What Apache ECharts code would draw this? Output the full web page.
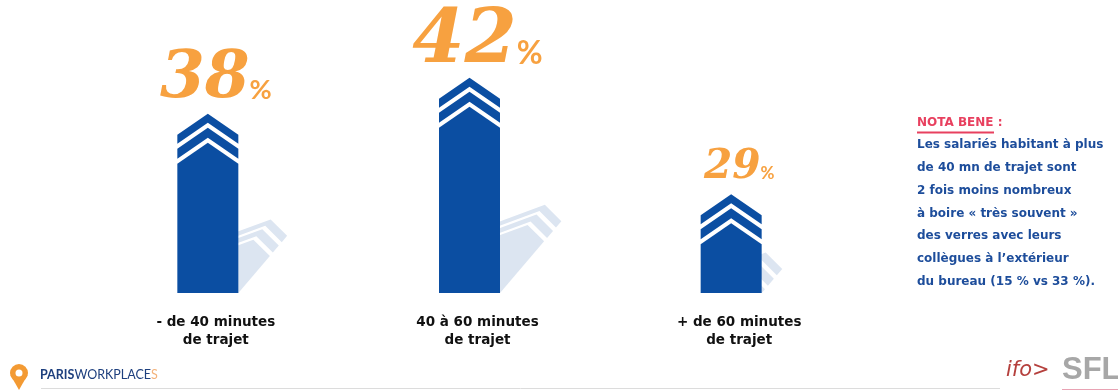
<!DOCTYPE html>
<html><head><meta charset="utf-8">
<script src="https://cdn.jsdelivr.net/npm/echarts@6/dist/echarts.min.js"></script>
<style>html,body{margin:0;padding:0;background:#fff;}#c{width:1118px;height:391px;}</style>
</head><body><div id="c"></div>
<script>
const categories = ['- de 40 minutes\nde trajet', '40 à 60 minutes\nde trajet', '+ de 60 minutes\nde trajet'];
const values = [38, 42, 29];
const noteTitle = 'NOTA BENE';
const noteLines = [
  'Les salariés habitant à plus',
  'de 40 mn de trajet sont',
  '2 fois moins nombreux',
  'à boire « très souvent »',
  'des verres avec leurs',
  'collègues à l\u2019extérieur',
  'du bureau (15 % vs 33 %).'
];

const Y_MIN = 18, Y_MAX = 50;
const BLUE = '#0b4ea2', SHADOW = '#dce5f1', ORANGE = '#f7a140';

const chart = echarts.init(document.getElementById('c'), null, {renderer: 'canvas'});

function renderItem(params, api) {
  const idx = api.value(0), v = api.value(1);
  const top = api.coord([idx, v]);
  const base = api.coord([idx, Y_MIN]);
  const cx = top[0], ty = top[1], by = base[1];
  const hw = 30.5, L = cx - hw, R = cx + hw;
  const mk = (drop, k) => {
    const band = (d1, d2) => [[L, ty + k * d1 + drop], [cx, ty + k * d1], [R, ty + k * d1 + drop], [R, ty + k * d2 + drop], [cx, ty + k * d2], [L, ty + k * d2 + drop]];
    return [band(0, 9), band(14, 24), [[L, ty + k * 29 + drop], [cx, ty + k * 29], [R, ty + k * 29 + drop], [R, by], [L, by]]];
  };
  const sh = p => { const z = by - p[1]; return [p[0] + 0.35 * z, by - 0.41 * z]; };
  const children = [];
  mk(40, 1.7).forEach(pts => children.push({type: 'polygon', shape: {points: pts.map(sh)}, style: {fill: SHADOW}}));
  mk(21, 1).forEach(pts => children.push({type: 'polygon', shape: {points: pts}, style: {fill: BLUE}}));
  const S = 2.66 * v - 36.6, s = S * 0.42;
  children.push({
    type: 'text',
    x: cx + 8, y: ty - 17 + 0.25 * S,
    style: {
      text: '{n|' + v + '}{p|%}',
      align: 'center', verticalAlign: 'bottom',
      rich: {
        n: {fontFamily: 'DejaVu Serif', fontStyle: 'italic', fontWeight: 'bold', fontSize: S, lineHeight: S, fill: ORANGE, color: ORANGE, verticalAlign: 'bottom'},
        p: {fontFamily: 'Lato', fontWeight: 'bold', fontSize: s, fill: ORANGE, color: ORANGE, verticalAlign: 'bottom', padding: [0, 0, 0.135 * S, 0]}
      }
    }
  });
  return {type: 'group', children};
}

const NOTE_FONT = 'bold 12px "DejaVu Sans"';
const graphic = [];
graphic.push({type: 'text', left: 917, top: 117, style: {text: noteTitle + ' :', font: NOTE_FONT, fill: '#e8405f'}});
graphic.push({type: 'line', shape: {x1: 917, y1: 132.5, x2: 994, y2: 132.5}, style: {stroke: '#e8405f', lineWidth: 2}});
noteLines.forEach((t, i) => {
  graphic.push({type: 'text', left: 917, top: 139 + i * 22.8, style: {text: t, font: NOTE_FONT, fill: '#1d4d9b'}});
});
graphic.push({type: 'line', shape: {x1: 41, y1: 388.5, x2: 1000, y2: 388.5}, style: {stroke: '#dcdcdc', lineWidth: 1}});
graphic.push({type: 'line', shape: {x1: 1062, y1: 389.5, x2: 1118, y2: 389.5}, style: {stroke: '#e9a3b4', lineWidth: 1}});
graphic.push({type: 'polygon', shape: {points: [[10.5, 375], [27.5, 375], [19, 390]]}, style: {fill: '#f39a33'}});
graphic.push({type: 'circle', shape: {cx: 19, cy: 373, r: 9}, style: {fill: '#f39a33'}});
graphic.push({type: 'circle', shape: {cx: 19, cy: 373, r: 3.5}, style: {fill: '#fff'}});
graphic.push({type: 'text', left: 40, top: 368, style: {
  text: '{a|PARIS}{b|WORKPLACE}{c|S}',
  rich: {
    a: {fontFamily: 'Lato', fontWeight: 'bold', fontSize: 12.5, fill: '#1d3f7e', color: '#1d3f7e'},
    b: {fontFamily: 'Lato', fontSize: 12.5, fill: '#1d3f7e', color: '#1d3f7e'},
    c: {fontFamily: 'Lato', fontSize: 12.5, fill: '#f4b27a', color: '#f4b27a'}
  }
}});
graphic.push({type: 'text', left: 1006, top: 360, style: {text: 'ifo\u003e', font: 'italic 300 21px "DejaVu Sans"', fill: '#b5403d'}});
graphic.push({type: 'text', left: 1062, top: 355, style: {text: 'SFL', font: 'bold 31px "Liberation Sans"', fill: '#a7a7a7'}});

chart.setOption({
  animation: false,
  backgroundColor: '#fff',
  grid: {left: 77, right: 256, top: 6, bottom: 98},
  xAxis: {
    type: 'category', data: categories,
    axisLine: {show: false}, axisTick: {show: false},
    axisLabel: {margin: 20, padding: [0, 0, 0, 16], fontFamily: 'DejaVu Sans', fontWeight: 'bold', fontSize: 13.5, color: '#111', lineHeight: 18, interval: 0}
  },
  yAxis: {type: 'value', min: Y_MIN, max: Y_MAX, show: false, splitLine: {show: false}},
  series: [{
    type: 'custom',
    renderItem,
    data: values.map((v, i) => [i, v]),
    encode: {x: 0, y: 1}
  }],
  graphic
});
</script>
</body></html>
